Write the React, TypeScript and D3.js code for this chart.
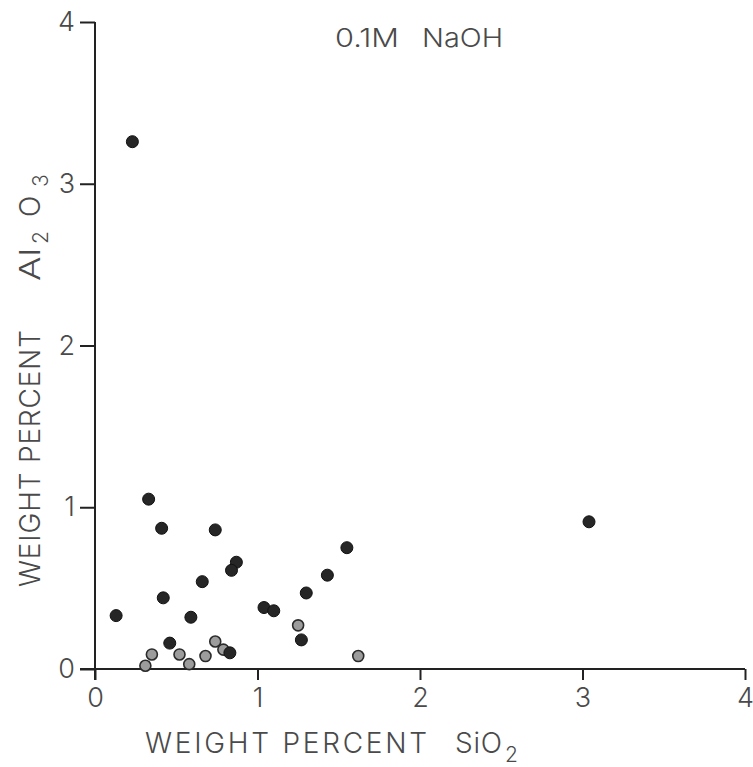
import React, { useEffect, useRef } from 'react';
import * as d3 from 'd3';

// weight percent SiO2 / Al2O3, dark filled dots
const solidSiO2 = [0.23, 0.33, 0.41, 0.74, 1.55, 0.87, 0.84, 1.43, 0.66, 1.30, 0.42, 0.13, 0.59, 1.04, 1.10, 1.27, 0.46, 0.83, 3.04];
const solidAl2O3 = [3.26, 1.05, 0.87, 0.86, 0.75, 0.66, 0.61, 0.58, 0.54, 0.47, 0.44, 0.33, 0.32, 0.38, 0.36, 0.18, 0.16, 0.10, 0.91];

// lighter, speckled dots near the baseline
const openSiO2 = [1.25, 0.74, 0.79, 0.35, 0.52, 0.68, 0.58, 0.31, 1.62];
const openAl2O3 = [0.27, 0.17, 0.12, 0.09, 0.09, 0.08, 0.03, 0.02, 0.08];

const xTicks = [0, 1, 2, 3, 4];
const yTicks = [0, 1, 2, 3, 4];
const titleWords = ['0.1M', 'NaOH'];

const FONT = 'Inter, "DejaVu Sans", sans-serif';
const INK = '#4a4a4a';
const W = 300;

export default function App() {
    const ref = useRef<SVGSVGElement | null>(null);

    useEffect(() => {
        const svg = d3.select(ref.current);
        svg.selectAll('*').remove();

        const x = d3.scaleLinear().domain([0, 4]).range([95, 745]);
        const y = d3.scaleLinear().domain([0, 4]).range([669, 22]);

        // y axis
        const yAxis = d3.axisLeft(y).tickValues(yTicks).tickSize(15).tickPadding(5).tickSizeOuter(0)
            .tickFormat(d3.format('d'));
        const gy = svg.append('g').attr('transform', 'translate(' + x(0) + ',0)').call(yAxis);
        gy.select('.domain').remove();
        gy.selectAll('line').attr('stroke', '#222').attr('stroke-width', 2);
        gy.selectAll('text').attr('font-family', FONT).attr('font-size', 27).attr('font-weight', W).attr('fill', INK);
        svg.append('line')
            .attr('x1', x(0)).attr('x2', x(0))
            .attr('y1', y(4)).attr('y2', y(0) + 11)
            .attr('stroke', '#222').attr('stroke-width', 2);

        // x axis
        const xAxis = d3.axisBottom(x).tickValues(xTicks).tickSize(11).tickPadding(8).tickSizeOuter(0)
            .tickFormat(d3.format('d'));
        const gx = svg.append('g').attr('transform', 'translate(0,' + y(0) + ')').call(xAxis);
        gx.select('.domain').remove();
        gx.selectAll('line').attr('stroke', '#222').attr('stroke-width', 2);
        gx.selectAll('text').attr('font-family', FONT).attr('font-size', 27).attr('font-weight', W).attr('fill', INK);
        svg.append('line')
            .attr('x1', x(0) - 15).attr('x2', x(4))
            .attr('y1', y(0)).attr('y2', y(0))
            .attr('stroke', '#222').attr('stroke-width', 2);

        // title
        const tt = svg.append('text')
            .attr('font-family', FONT).attr('font-size', 26).attr('font-weight', W).attr('fill', INK);
        tt.append('tspan').attr('x', 335).attr('y', 47)
            .attr('textLength', 64).attr('lengthAdjust', 'spacingAndGlyphs').text(titleWords[0]);
        tt.append('tspan').attr('x', 422).attr('y', 47)
            .attr('textLength', 81).attr('lengthAdjust', 'spacingAndGlyphs').text(titleWords[1]);

        // x axis title
        const xt = svg.append('text')
            .attr('font-family', FONT).attr('font-size', 28).attr('font-weight', W).attr('fill', INK);
        xt.append('tspan').attr('x', 145).attr('y', 753)
            .attr('textLength', 282).attr('lengthAdjust', 'spacing')
            .text('WEIGHT PERCENT');
        xt.append('tspan').attr('x', 455).attr('y', 753)
            .attr('textLength', 47).attr('lengthAdjust', 'spacing')
            .text('SiO');
        xt.append('tspan').attr('x', 505).attr('y', 762).attr('font-size', 21).text('2');

        // y axis title, rotated
        const yt = svg.append('text')
            .attr('transform', 'rotate(-90)')
            .attr('font-family', FONT).attr('font-size', 28).attr('font-weight', W).attr('fill', INK);
        yt.append('tspan').attr('x', -587).attr('y', 40)
            .attr('textLength', 257).attr('lengthAdjust', 'spacing')
            .text('WEIGHT PERCENT');
        yt.append('tspan').attr('x', -281).attr('y', 40)
            .attr('textLength', 33).attr('lengthAdjust', 'spacingAndGlyphs').text('Al');
        yt.append('tspan').attr('x', -244).attr('y', 48).attr('font-size', 21).text('2');
        yt.append('tspan').attr('x', -217).attr('y', 40).text('O');
        yt.append('tspan').attr('x', -187).attr('y', 48).attr('font-size', 21).text('3');

        // points
        const solid = solidSiO2.map((v, i) => [v, solidAl2O3[i]]);
        const open = openSiO2.map((v, i) => [v, openAl2O3[i]]);

        svg.append('g').selectAll('circle')
            .data(open)
            .enter()
            .append('circle')
            .attr('cx', d => x(d[0]))
            .attr('cy', d => y(d[1]))
            .attr('r', 5.5)
            .attr('fill', '#9c9c9c')
            .attr('stroke', '#2b2b2b')
            .attr('stroke-width', 1.6);

        svg.append('g').selectAll('circle')
            .data(solid)
            .enter()
            .append('circle')
            .attr('cx', d => x(d[0]))
            .attr('cy', d => y(d[1]))
            .attr('r', 6)
            .attr('fill', '#262626')
            .attr('stroke', '#111')
            .attr('stroke-width', 1);
    }, []);

    return (
        <svg ref={ref} width={753} height={767}
            style={{ position: 'absolute', left: 0, top: 0, background: '#fff' }}>
        </svg>
    );
}
